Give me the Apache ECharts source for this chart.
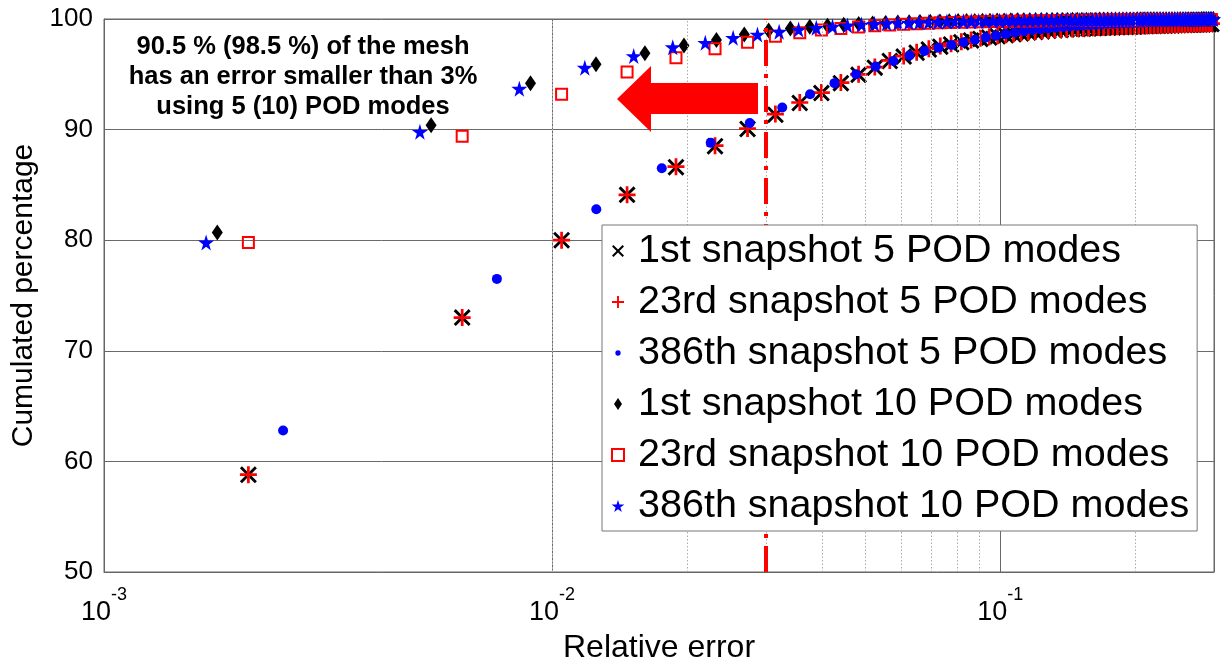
<!DOCTYPE html>
<html>
<head>
<meta charset="utf-8">
<script src="https://cdn.jsdelivr.net/npm/echarts@6/dist/echarts.min.js"></script>
<style>
  html, body { margin: 0; padding: 0; background: #fff; }
  #main { width: 1221px; height: 668px; }
</style>
</head>
<body>
<div id="main"></div>
<script>
// legend names
var names = [
  '1st snapshot 5 POD modes',
  '23rd snapshot 5 POD modes',
  '386th snapshot 5 POD modes',
  '1st snapshot 10 POD modes',
  '23rd snapshot 10 POD modes',
  '386th snapshot 10 POD modes'
];

// error bins (bin centres)
var xBin21 = [
  0.0021,0.0063,0.0105,0.0147,0.0189,0.0231,0.0273,0.0315,0.0357,0.0399,
  0.0441,0.0483,0.0525,0.0567,0.0609,0.0651,0.0693,0.0735,0.0777,0.0819,
  0.0861,0.0903,0.0945,0.0987,0.1029,0.1071,0.1113,0.1155,0.1197,0.1239,
  0.1281,0.1323,0.1365,0.1407,0.1449,0.1491,0.1533,0.1575,0.1617,0.1659,
  0.1701,0.1743,0.1785,0.1827,0.1869,0.1911,0.1953,0.1995,0.2037,0.2079,
  0.2121,0.2163,0.2205,0.2247,0.2289,0.2331,0.2373,0.2415,0.2457,0.2499,
  0.2541,0.2583,0.2625,0.2667,0.2709,0.2751,0.2793,0.2835,0.2877,0.2919,
  0.2961
];
var xBin251 = [
  0.00251,0.00753,0.01255,0.01757,0.02259,0.02761,0.03263,0.03765,0.04267,0.04769,
  0.05271,0.05773,0.06275,0.06777,0.07279,0.07781,0.08283,0.08785,0.09287,0.09789,
  0.10291,0.10793,0.11295,0.11797,0.12299,0.12801,0.13303,0.13805,0.14307,0.14809,
  0.15311,0.15813,0.16315,0.16817,0.17319,0.17821,0.18323,0.18825,0.19327,0.19829,
  0.20331,0.20833,0.21335,0.21837,0.22339,0.22841,0.23343,0.23845,0.24347,0.24849,
  0.25351,0.25853,0.26355,0.26857,0.27359,0.27861,0.28363,0.28865,0.29367,0.29869
];
var xBin179 = [
  0.00179,0.00537,0.00895,0.01253,0.01611,0.01969,0.02327,0.02685,0.03043,0.03401,
  0.03759,0.04117,0.04475,0.04833,0.05191,0.05549,0.05907,0.06265,0.06623,0.06981,
  0.07339,0.07697,0.08055,0.08413,0.08771,0.09129,0.09487,0.09845,0.10203,0.10561,
  0.10919,0.11277,0.11635,0.11993,0.12351,0.12709,0.13067,0.13425,0.13783,0.14141,
  0.14499,0.14857,0.15215,0.15573,0.15931,0.16289,0.16647,0.17005,0.17363,0.17721,
  0.18079,0.18437,0.18795,0.19153,0.19511,0.19869,0.20227,0.20585,0.20943,0.21301,
  0.21659,0.22017,0.22375,0.22733,0.23091,0.23449,0.23807,0.24165,0.24523,0.24881,
  0.25239,0.25597,0.25955,0.26313,0.26671,0.27029,0.27387,0.27745,0.28103,0.28461,
  0.28819,0.29177,0.29535,0.29893
];
var xBin169 = [
  0.00169,0.00507,0.00845,0.01183,0.01521,0.01859,0.02197,0.02535,0.02873,0.03211,
  0.03549,0.03887,0.04225,0.04563,0.04901,0.05239,0.05577,0.05915,0.06253,0.06591,
  0.06929,0.07267,0.07605,0.07943,0.08281,0.08619,0.08957,0.09295,0.09633,0.09971,
  0.10309,0.10647,0.10985,0.11323,0.11661,0.11999,0.12337,0.12675,0.13013,0.13351,
  0.13689,0.14027,0.14365,0.14703,0.15041,0.15379,0.15717,0.16055,0.16393,0.16731,
  0.17069,0.17407,0.17745,0.18083,0.18421,0.18759,0.19097,0.19435,0.19773,0.20111,
  0.20449,0.20787,0.21125,0.21463,0.21801,0.22139,0.22477,0.22815,0.23153,0.23491,
  0.23829,0.24167,0.24505,0.24843,0.25181,0.25519,0.25857,0.26195,0.26533,0.26871,
  0.27209,0.27547,0.27885,0.28223,0.28561,0.28899,0.29237,0.29575,0.29913
];

// cumulated percentage per series
var yFirst5 = [
  58.8,73.0,80.0,84.1,86.6,88.5,90.05,91.35,92.4,93.3,
  94.2,94.95,95.6,96.2,96.6,96.95,97.25,97.5,97.7,97.9,
  98.05,98.2,98.32,98.43,98.53,98.62,98.7,98.77,98.83,98.88,
  98.93,98.97,99.01,99.04,99.07,99.1,99.12,99.14,99.16,99.18,
  99.2,99.22,99.24,99.25,99.27,99.28,99.3,99.31,99.32,99.34,
  99.35,99.36,99.37,99.38,99.39,99.4,99.41,99.42,99.43,99.44,
  99.45,99.46,99.47,99.48,99.49,99.5,99.5,99.51,99.52,99.53,
  99.54
];
var y23rd5 = [
  58.8,73.0,80.0,84.1,86.65,88.55,90.1,91.4,92.45,93.35,
  94.25,95.0,95.65,96.25,96.65,97.0,97.3,97.55,97.76,97.95,
  98.1,98.25,98.37,98.48,98.58,98.67,98.75,98.82,98.88,98.93,
  98.98,99.02,99.06,99.09,99.12,99.15,99.17,99.19,99.21,99.23,
  99.25,99.27,99.29,99.3,99.32,99.33,99.35,99.36,99.37,99.39,
  99.4,99.41,99.42,99.43,99.44,99.45,99.46,99.47,99.48,99.49,
  99.5,99.51,99.52,99.53,99.54,99.55,99.55,99.56,99.57,99.58,
  99.59
];
var y386th5 = [
  62.8,76.5,82.8,86.5,88.8,90.6,92.0,93.2,94.2,95.0,
  95.7,96.2,96.7,97.1,97.4,97.65,97.9,98.12,98.32,98.5,
  98.65,98.78,98.9,99.0,99.08,99.15,99.21,99.27,99.32,99.37,
  99.41,99.45,99.48,99.51,99.54,99.57,99.59,99.61,99.63,99.65,
  99.67,99.68,99.7,99.71,99.72,99.73,99.74,99.75,99.76,99.77,
  99.78,99.79,99.8,99.8,99.81,99.82,99.82,99.83,99.84,99.84
];
var yFirst10 = [
  80.7,90.4,94.2,95.9,96.9,97.6,98.1,98.6,98.95,99.15,
  99.3,99.4,99.48,99.55,99.6,99.64,99.68,99.71,99.74,99.76,
  99.78,99.8,99.81,99.82,99.83,99.84,99.85,99.86,99.87,99.88,
  99.88,99.89,99.89,99.9,99.9,99.91,99.91,99.92,99.92,99.92,
  99.93,99.93,99.93,99.94,99.94,99.94,99.95,99.95,99.95,99.95,
  99.96,99.96,99.96,99.96,99.96,99.96,99.97,99.97,99.97,99.97,
  99.97,99.97,99.97,99.97,99.97,99.97,99.98,99.98,99.98,99.98,
  99.98,99.98,99.98,99.98,99.98,99.98,99.98,99.98,99.99,99.99,
  99.99,99.99,99.99,99.99
];
var y23rd10 = [
  79.8,89.4,93.2,95.2,96.5,97.3,97.9,98.45,98.75,99.0,
  99.15,99.28,99.38,99.46,99.52,99.57,99.61,99.65,99.68,99.71,
  99.73,99.75,99.77,99.78,99.79,99.8,99.81,99.82,99.83,99.84,
  99.84,99.85,99.86,99.86,99.87,99.87,99.88,99.88,99.89,99.89,
  99.9,99.9,99.9,99.91,99.91,99.91,99.92,99.92,99.92,99.92,
  99.93,99.93,99.93,99.93,99.93,99.94,99.94,99.94,99.94,99.94,
  99.95,99.95,99.95,99.95,99.95,99.96,99.96,99.96,99.96,99.96,
  99.96
];
var y386th10 = [
  79.8,89.8,93.7,95.6,96.65,97.45,97.85,98.3,98.6,98.85,
  99.05,99.2,99.32,99.42,99.5,99.56,99.61,99.65,99.68,99.71,
  99.73,99.75,99.77,99.79,99.8,99.81,99.82,99.83,99.84,99.85,
  99.86,99.87,99.87,99.88,99.88,99.89,99.89,99.9,99.9,99.91,
  99.91,99.91,99.92,99.92,99.92,99.93,99.93,99.93,99.94,99.94,
  99.94,99.94,99.95,99.95,99.95,99.95,99.96,99.96,99.96,99.96,
  99.96,99.97,99.97,99.97,99.97,99.97,99.97,99.97,99.97,99.97,
  99.97,99.97,99.98,99.98,99.98,99.98,99.98,99.98,99.98,99.98,
  99.98,99.98,99.98,99.99,99.99,99.99,99.99,99.99,99.99
];

// axes
var yTicks = [50, 60, 70, 80, 90, 100];
var xDecades = [-3, -2, -1];
var xMax = 0.3;
var minorTicks = [0.002,0.003,0.004,0.005,0.006,0.007,0.008,0.009,
                  0.02,0.03,0.04,0.05,0.06,0.07,0.08,0.09,0.2];
var threshold = 0.03;

var noteLines = ['90.5 % (98.5 %) of the mesh', 'has an error smaller than 3%', 'using 5 (10) POD modes'];

var FONT = 'Liberation Sans, Arial, sans-serif';
var symX = 'path://M0,12L12,0L50,38L88,0L100,12L62,50L100,88L88,100L50,62L12,100L0,88L38,50Z';
var symPlus = 'path://M42,0H58V42H100V58H58V100H42V58H0V42H42Z';
var symStar = 'path://M50,0L61,35L98,35L68,57L79,91L50,70L21,91L32,57L2,35L39,35Z';
var symDiamond = 'path://M5,0L10,7.5L5,15L0,7.5Z';
var symSquare = 'path://M0,0H10V10H0Z';
var symDotSmall = 'path://M0,0M100,100M50,28A22,22 0 1 1 49.9,28Z';

function pairs(xs, ys) {
  return xs.map(function (x, i) { return [x, ys[i]]; });
}

function scatter(name, data, symbol, size, itemStyle) {
  itemStyle.opacity = 1;
  return {
    name: name, type: 'scatter', data: data, symbol: symbol, symbolSize: size,
    itemStyle: itemStyle, silent: true, animation: false, z: 3,
    emphasis: { disabled: true }
  };
}

var myChart = echarts.init(document.getElementById('main'));

var option = {
  backgroundColor: '#fff',
  animation: false,
  grid: {
    left: 104, right: 7, top: 19, bottom: 96,
    show: true, borderColor: '#666', borderWidth: 1,
    containLabel: false, outerBoundsMode: 'none'
  },
  legend: {
    orient: 'vertical', left: 602, top: 225, z: 20,
    data: [
      { name: names[0], icon: symX },
      { name: names[1], icon: symPlus },
      { name: names[2], icon: symDotSmall },
      { name: names[3], icon: symDiamond },
      { name: names[4], icon: symSquare },
      { name: names[5], icon: symStar }
    ],
    itemWidth: 30, itemHeight: 12, itemGap: 7,
    padding: [4, 8, 3, 9],
    backgroundColor: '#fff', borderColor: '#777', borderWidth: 1, borderRadius: 0,
    selectedMode: false,
    textStyle: { fontFamily: FONT, fontSize: 39.5, color: '#000', lineHeight: 44 }
  },
  xAxis: {
    type: 'log', logBase: 10, min: Math.pow(10, xDecades[0]), max: xMax,
    name: 'Relative error', nameLocation: 'middle', nameGap: 60,
    nameTextStyle: { fontFamily: FONT, fontSize: 32, color: '#000' },
    axisLine: { show: true, lineStyle: { color: '#666', width: 1 } },
    axisTick: { show: true, inside: true, length: 7, lineStyle: { color: '#666' } },
    splitLine: { show: true, lineStyle: { color: '#6a6a6a', width: 1 } },
    axisLabel: {
      margin: 14,
      formatter: function (v) {
        var e = Math.log(v) / Math.LN10;
        var r = Math.round(e);
        if (Math.abs(e - r) > 1e-6 || xDecades.indexOf(r) < 0) return '';
        return '{b|10}{s|' + r + '}';
      },
      rich: {
        b: { fontFamily: FONT, fontSize: 27, color: '#000', lineHeight: 40, verticalAlign: 'bottom' },
        s: { fontFamily: FONT, fontSize: 18, color: '#000', lineHeight: 18, verticalAlign: 'top' }
      }
    }
  },
  yAxis: {
    type: 'value', min: yTicks[0], max: yTicks[yTicks.length - 1], interval: yTicks[1] - yTicks[0],
    name: 'Cumulated percentage', nameLocation: 'middle', nameGap: 56,
    nameTextStyle: { fontFamily: FONT, fontSize: 30, color: '#000' },
    axisLine: { show: true, lineStyle: { color: '#666', width: 1 } },
    axisTick: { show: true, inside: true, length: 7, lineStyle: { color: '#666' } },
    splitLine: { show: true, lineStyle: { color: '#6a6a6a', width: 1 } },
    axisLabel: { margin: 11, fontFamily: FONT, fontSize: 26, color: '#000' }
  },
  series: [
    {
      name: 'minor grid', type: 'scatter', data: [], silent: true, z: 1,
      markLine: {
        silent: true, symbol: 'none', animation: false, label: { show: false },
        lineStyle: { color: '#aaa', width: 1, type: [1.5, 2] },
        data: minorTicks.map(function (v) { return { xAxis: v }; })
      }
    },
    scatter(names[0], pairs(xBin21, yFirst5), symX, 17, { color: '#000' }),
    scatter(names[1], pairs(xBin21, y23rd5), symPlus, 17, { color: '#f00' }),
    scatter(names[2], pairs(xBin251, y386th5), 'circle', 10, { color: '#00f' }),
    scatter(names[3], pairs(xBin179, yFirst10), symDiamond, [11, 16], { color: '#000' }),
    scatter(names[4], pairs(xBin21, y23rd10), symSquare, 11,
      { color: 'rgba(255,255,255,0)', borderColor: '#f00', borderWidth: 2 }),
    scatter(names[5], pairs(xBin169, y386th10), symStar, 16, { color: '#00f' }),
    {
      name: 'threshold', type: 'scatter', data: [], silent: true, z: 4,
      markLine: {
        silent: true, symbol: 'none', animation: false, label: { show: false },
        lineStyle: { color: '#f00', width: 4, type: [26, 8, 4, 8] },
        data: [{ xAxis: threshold }]
      }
    }
  ],
  graphic: [
    {
      type: 'polygon', z: 100, silent: true,
      shape: { points: [[617, 99], [651, 66], [651, 83], [758, 83], [758, 114], [651, 114], [651, 132]] },
      style: { fill: '#f00' }
    },
    {
      type: 'text', z: 100, silent: true, x: 303, y: 77,
      style: {
        text: noteLines.join('\n'), fontFamily: FONT, fontSize: 25.5, fontWeight: 'bold',
        fill: '#000', align: 'center', verticalAlign: 'middle', lineHeight: 30
      }
    }
  ]
};

myChart.setOption(option);
</script>
</body>
</html>
